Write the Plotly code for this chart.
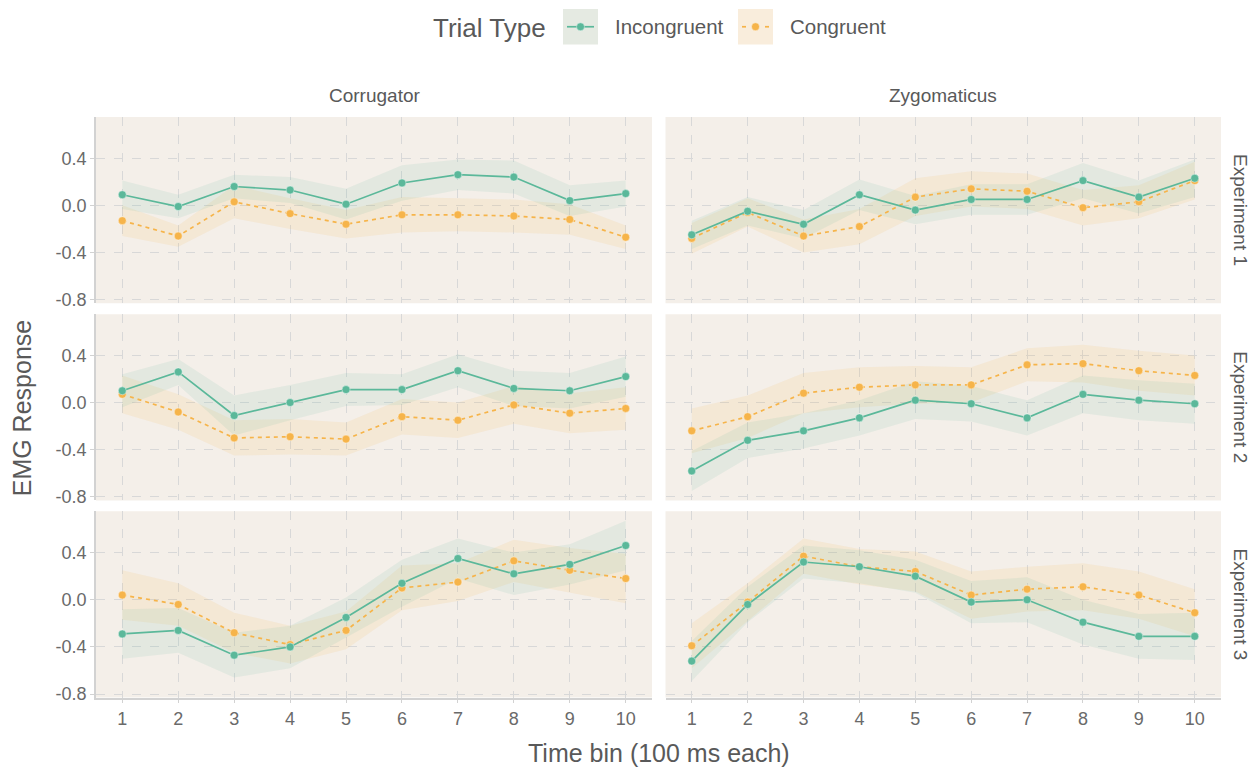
import plotly.graph_objects as go

W, H = 1259, 773

time_bins = [1, 2, 3, 4, 5, 6, 7, 8, 9, 10]
muscles = ["Corrugator", "Zygomaticus"]
experiments = ["Experiment 1", "Experiment 2", "Experiment 3"]
trial_types = ["Incongruent", "Congruent"]
y_ticks = [-0.8, -0.4, 0.0, 0.4]
y_tick_labels = ["-0.8", "-0.4", "0.0", "0.4"]

# Experiment 1
corr_e1_incong = [0.09, -0.01, 0.16, 0.13, 0.01, 0.19, 0.26, 0.24, 0.04, 0.10]
corr_e1_incong_se = [0.12, 0.10, 0.10, 0.11, 0.13, 0.15, 0.13, 0.14, 0.13, 0.11]
corr_e1_cong = [-0.13, -0.26, 0.03, -0.07, -0.16, -0.08, -0.08, -0.09, -0.12, -0.27]
corr_e1_cong_se = [0.13, 0.09, 0.14, 0.13, 0.12, 0.15, 0.14, 0.14, 0.13, 0.10]
zygo_e1_incong = [-0.25, -0.05, -0.16, 0.09, -0.04, 0.05, 0.05, 0.21, 0.07, 0.23]
zygo_e1_incong_se = [0.12, 0.12, 0.12, 0.13, 0.12, 0.13, 0.13, 0.15, 0.14, 0.16]
zygo_e1_cong = [-0.28, -0.06, -0.26, -0.18, 0.07, 0.14, 0.12, -0.02, 0.03, 0.21]
zygo_e1_cong_se = [0.13, 0.12, 0.14, 0.15, 0.16, 0.15, 0.15, 0.15, 0.14, 0.16]

# Experiment 2
corr_e2_incong = [0.10, 0.26, -0.11, 0.00, 0.11, 0.11, 0.27, 0.12, 0.10, 0.22]
corr_e2_incong_se = [0.14, 0.11, 0.17, 0.15, 0.14, 0.13, 0.14, 0.15, 0.15, 0.17]
corr_e2_cong = [0.07, -0.08, -0.30, -0.29, -0.31, -0.12, -0.15, -0.02, -0.09, -0.05]
corr_e2_cong_se = [0.16, 0.15, 0.15, 0.15, 0.14, 0.15, 0.15, 0.16, 0.17, 0.18]
zygo_e2_incong = [-0.58, -0.32, -0.24, -0.13, 0.02, -0.01, -0.13, 0.07, 0.02, -0.01]
zygo_e2_incong_se = [0.17, 0.15, 0.15, 0.15, 0.16, 0.15, 0.15, 0.16, 0.17, 0.17]
zygo_e2_cong = [-0.24, -0.12, 0.08, 0.13, 0.15, 0.15, 0.32, 0.33, 0.27, 0.23]
zygo_e2_cong_se = [0.19, 0.18, 0.17, 0.17, 0.16, 0.15, 0.14, 0.16, 0.17, 0.17]

# Experiment 3
corr_e3_incong = [-0.29, -0.26, -0.47, -0.40, -0.15, 0.14, 0.35, 0.22, 0.30, 0.46]
corr_e3_incong_se = [0.21, 0.19, 0.19, 0.18, 0.17, 0.20, 0.17, 0.18, 0.17, 0.21]
corr_e3_cong = [0.04, -0.04, -0.28, -0.38, -0.26, 0.10, 0.15, 0.33, 0.25, 0.18]
corr_e3_cong_se = [0.21, 0.18, 0.17, 0.16, 0.16, 0.19, 0.16, 0.18, 0.19, 0.21]
zygo_e3_incong = [-0.52, -0.04, 0.32, 0.28, 0.20, -0.02, 0.00, -0.19, -0.31, -0.31]
zygo_e3_incong_se = [0.17, 0.15, 0.14, 0.14, 0.14, 0.18, 0.19, 0.19, 0.19, 0.20]
zygo_e3_cong = [-0.39, -0.02, 0.37, 0.28, 0.24, 0.04, 0.09, 0.11, 0.04, -0.11]
zygo_e3_cong_se = [0.19, 0.16, 0.15, 0.15, 0.17, 0.20, 0.19, 0.20, 0.20, 0.20]

panels = {
    (0, 0): (corr_e1_incong, corr_e1_incong_se, corr_e1_cong, corr_e1_cong_se),
    (0, 1): (zygo_e1_incong, zygo_e1_incong_se, zygo_e1_cong, zygo_e1_cong_se),
    (1, 0): (corr_e2_incong, corr_e2_incong_se, corr_e2_cong, corr_e2_cong_se),
    (1, 1): (zygo_e2_incong, zygo_e2_incong_se, zygo_e2_cong, zygo_e2_cong_se),
    (2, 0): (corr_e3_incong, corr_e3_incong_se, corr_e3_cong, corr_e3_cong_se),
    (2, 1): (zygo_e3_incong, zygo_e3_incong_se, zygo_e3_cong, zygo_e3_cong_se),
}

GREEN = "#5BB89A"
ORANGE = "#F6B44A"
GREEN_FILL = "rgba(91,184,154,0.11)"
ORANGE_FILL = "rgba(246,180,74,0.12)"
PANEL_BG = "#F4EFE9"
GRID = "#D8D8D8"
AXLINE = "#D2D2D2"
FONT = "Liberation Sans"
TICK_COL = "#6A6A6A"
TEXT_COL = "#595959"
ORANGE_DASH = "4px,4px"

# panel pixel boxes
col_px = [(96, 652), (665.5, 1221)]
row_px = [(118, 306), (317, 505), (516, 704)]


def px_x(p):
    return p / W


def px_y(p):
    return 1 - p / H


fig = go.Figure()
layout_axes = {}

for (r, c), (inc, inc_se, con, con_se) in panels.items():
    k = r * 2 + c + 1
    xa = "x" if k == 1 else f"x{k}"
    ya = "y" if k == 1 else f"y{k}"
    series = [
        (con, con_se, ORANGE, ORANGE_FILL, ORANGE_DASH, "Congruent"),
        (inc, inc_se, GREEN, GREEN_FILL, "solid", "Incongruent"),
    ]
    for m, se, col, fill, dash, name in series:
        upper = [a + b for a, b in zip(m, se)]
        lower = [a - b for a, b in zip(m, se)]
        fig.add_trace(go.Scatter(
            x=time_bins + time_bins[::-1], y=upper + lower[::-1],
            fill="toself", fillcolor=fill, line=dict(width=0),
            mode="lines", hoverinfo="skip", showlegend=False,
            xaxis=xa, yaxis=ya))
    for m, se, col, fill, dash, name in series:
        fig.add_trace(go.Scatter(
            x=time_bins, y=m, mode="lines+markers", name=name,
            line=dict(color=col, width=1.7, dash=dash),
            marker=dict(color=col, size=8, line=dict(color="rgba(255,255,255,0.7)", width=0.6)),
            showlegend=False, xaxis=xa, yaxis=ya))

    xd = [px_x(col_px[c][0]), px_x(col_px[c][1])]
    yd = [px_y(row_px[r][1]), px_y(row_px[r][0])]
    bottom = (r == 2)
    left = (c == 0)
    xkey = "xaxis" if k == 1 else f"xaxis{k}"
    ykey = "yaxis" if k == 1 else f"yaxis{k}"
    layout_axes[xkey] = dict(
        domain=xd, anchor=ya, range=[0.53, 10.47],
        tickmode="array", tickvals=time_bins, ticktext=[str(t) for t in time_bins],
        showticklabels=bottom, ticks="outside" if bottom else "",
        ticklen=4, tickcolor=AXLINE, tickwidth=1,
        showline=bottom, linecolor=AXLINE, linewidth=1.5,
        showgrid=True, gridcolor=GRID, gridwidth=1.3, griddash="dash",
        zeroline=False,
        tickfont=dict(family=FONT, size=18, color=TICK_COL),
    )
    layout_axes[ykey] = dict(
        domain=yd, anchor=xa, range=[-0.83, 0.75],
        tickmode="array", tickvals=y_ticks, ticktext=y_tick_labels,
        showticklabels=left, ticks="outside" if left else "",
        ticklen=4, tickcolor=AXLINE, tickwidth=1,
        showline=left, linecolor=AXLINE, linewidth=1.5,
        showgrid=True, gridcolor=GRID, gridwidth=1.3, griddash="dash",
        zeroline=False,
        tickfont=dict(family=FONT, size=18, color=TICK_COL),
    )

shapes = []
# panel backgrounds
for r in range(3):
    for c in range(2):
        shapes.append(dict(type="rect", xref="paper", yref="paper",
                           x0=px_x(col_px[c][0]), x1=px_x(col_px[c][1]),
                           y0=px_y(row_px[r][1]), y1=px_y(row_px[r][0]),
                           fillcolor=PANEL_BG, line=dict(width=0), layer="below"))

annotations = []
for c, name in enumerate(muscles):
    annotations.append(dict(text=name, x=px_x((col_px[c][0] + col_px[c][1]) / 2), y=px_y(96),
                            xref="paper", yref="paper", showarrow=False,
                            xanchor="center", yanchor="middle",
                            font=dict(family=FONT, size=19, color=TEXT_COL)))
for r, name in enumerate(experiments):
    annotations.append(dict(text=name, x=px_x(1241), y=px_y((row_px[r][0] + row_px[r][1]) / 2),
                            xref="paper", yref="paper", showarrow=False, textangle=90,
                            xanchor="center", yanchor="middle",
                            font=dict(family=FONT, size=19, color=TEXT_COL)))
annotations.append(dict(text="EMG Response", x=px_x(22), y=px_y(412), xref="paper", yref="paper",
                        showarrow=False, textangle=-90, xanchor="center", yanchor="middle",
                        font=dict(family=FONT, size=25, color=TEXT_COL)))
annotations.append(dict(text="Time bin (100 ms each)", x=px_x(659), y=px_y(760), xref="paper", yref="paper",
                        showarrow=False, xanchor="center", yanchor="middle",
                        font=dict(family=FONT, size=25, color=TEXT_COL)))

# legend (drawn manually, ggplot style keys)
annotations.append(dict(text="Trial Type", x=px_x(431), y=px_y(28), xref="paper", yref="paper",
                        showarrow=False, xanchor="left", yanchor="middle",
                        font=dict(family=FONT, size=26, color=TEXT_COL)))
legend_keys = [
    (trial_types[0], 563, GREEN, "rgb(229,234,226)", "solid", 613),
    (trial_types[1], 738, ORANGE, "rgb(249,237,220)", "dot", 788),
]
for name, bx, col, bg, dash, tx in legend_keys:
    shapes.append(dict(type="rect", xref="paper", yref="paper",
                       x0=px_x(bx), x1=px_x(bx + 35), y0=px_y(45), y1=px_y(9),
                       fillcolor=bg, line=dict(width=0)))
    if dash == "solid":
        shapes.append(dict(type="line", xref="paper", yref="paper",
                           x0=px_x(bx + 4), x1=px_x(bx + 31), y0=px_y(27), y1=px_y(27),
                           line=dict(color=col, width=1.7)))
    else:
        for s0, s1 in [(bx + 4, bx + 8), (bx + 27, bx + 31)]:
            shapes.append(dict(type="line", xref="paper", yref="paper",
                               x0=px_x(s0), x1=px_x(s1), y0=px_y(27), y1=px_y(27),
                               line=dict(color=col, width=1.7)))
    shapes.append(dict(type="circle", xref="paper", yref="paper",
                       x0=px_x(bx + 13.5), x1=px_x(bx + 21.5), y0=px_y(31), y1=px_y(23),
                       fillcolor=col, line=dict(color="rgba(255,255,255,0.7)", width=0.6)))
    annotations.append(dict(text=name, x=px_x(tx), y=px_y(27), xref="paper", yref="paper",
                            showarrow=False, xanchor="left", yanchor="middle",
                            font=dict(family=FONT, size=20.5, color=TEXT_COL)))

fig.update_layout(
    width=W, height=H, autosize=False,
    margin=dict(l=0, r=0, t=0, b=0),
    paper_bgcolor="white", plot_bgcolor="rgba(0,0,0,0)",
    showlegend=False,
    shapes=shapes, annotations=annotations,
    font=dict(family=FONT, color=TEXT_COL),
    **layout_axes,
)

fig.write_html("out.html", config={"displayModeBar": False},
               post_script="document.body.style.margin='0';document.body.style.overflow='hidden';")
